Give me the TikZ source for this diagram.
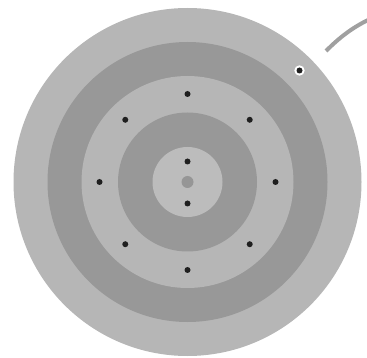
\documentclass[tikz,border=0pt]{standalone}
\usetikzlibrary{calc}
\definecolor{lightg}{RGB}{182,182,182}
\definecolor{darkg}{RGB}{152,152,152}
\definecolor{centerg}{RGB}{188,188,188}
\definecolor{dotg}{RGB}{150,150,150}
\definecolor{wireg}{RGB}{160,160,160}
\begin{document}
\begin{tikzpicture}[x=1pt,y=-1pt,
  hole/.style={fill=black!88}]
\useasboundingbox (0,0) rectangle (367,358);
\coordinate (c) at (187.5,182);
\fill[lightg] (c) circle (174);
\fill[darkg] (c) circle (140);
\fill[lightg] (c) circle (106);
\fill[darkg] (c) circle (69.5);
\fill[centerg] (c) circle (35);
\fill[dotg] (c) circle (6);
\foreach \a in {0,45,...,315}{
  \fill[hole] ($(c)+(\a:88)$) circle (3);
}
\fill[hole] (187.5,161.5) circle (3);
\fill[hole] (187.5,203.5) circle (3);
\fill[white] (299.5,70.5) circle (5.2);
\fill[hole] (299.5,70.5) circle (3);
\draw[wireg,line width=4pt] (326,51) .. controls (340,37) and (352,28) .. (368,20);
\end{tikzpicture}
\end{document}
